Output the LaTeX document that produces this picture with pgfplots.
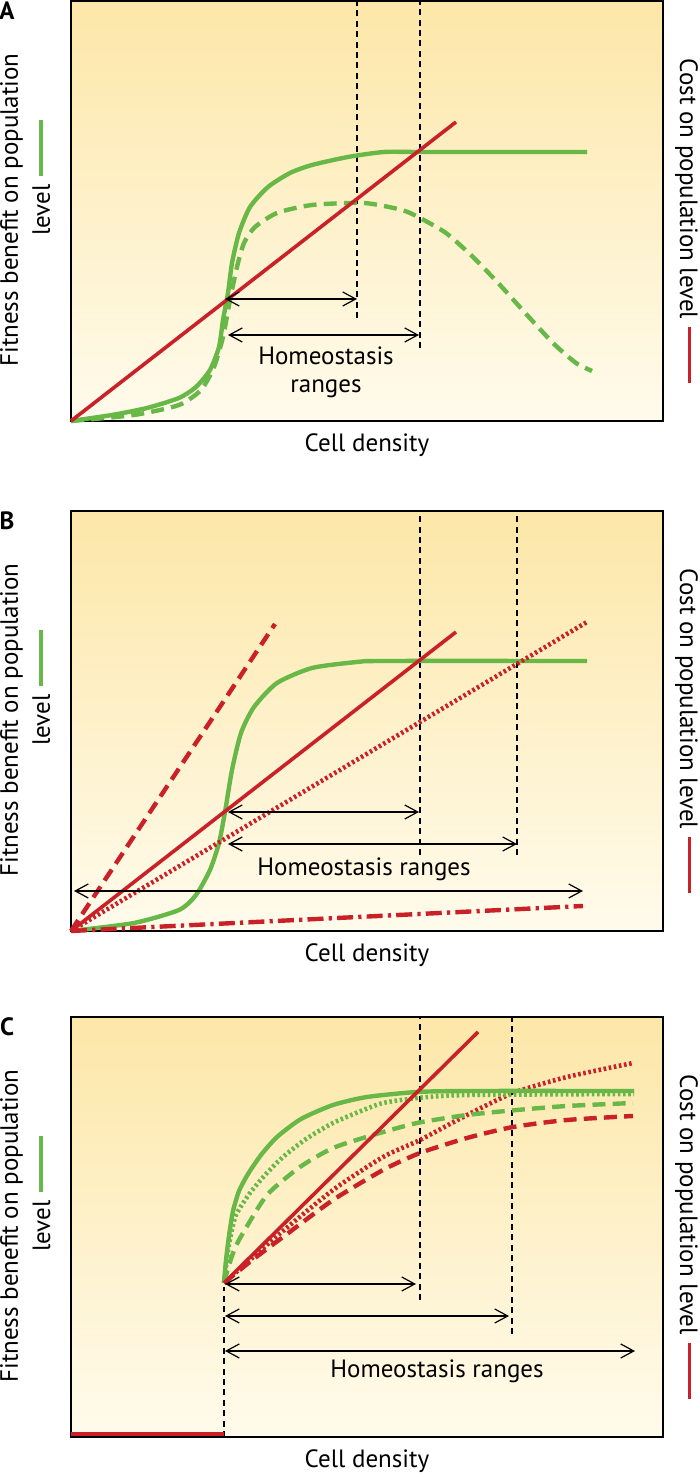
\documentclass[border=0pt]{standalone}
\usepackage{pgfplots}
\pgfplotsset{compat=1.18}
\usepackage{fontspec}
\setmainfont{PT Sans}
\usetikzlibrary{arrows.meta}
\definecolor{cgreen}{RGB}{104,184,72}
\definecolor{cred}{RGB}{202,33,41}
\definecolor{bgtop}{RGB}{253,231,168}
\definecolor{bgbot}{RGB}{255,251,236}
\pgfplotsset{
  panel/.style={
    anchor=south west, width=296pt, height=210pt, scale only axis,
    xmin=0, xmax=592, ymin=0, ymax=420, ticks=none, clip=false,
    axis line style={line width=1.3pt},
    axis background/.style={top color=bgtop, bottom color=bgbot},
  },
  gsolid/.style={cgreen, line width=2.2pt, smooth, tension=0.4, no markers},
  gdash/.style={cgreen, line width=2.2pt, dash pattern=on 6.5pt off 3.6pt, smooth, tension=0.4, no markers},
  gdot/.style={cgreen, line width=2.3pt, dash pattern=on 1.3pt off 1.3pt, smooth, tension=0.4, no markers},
  rsolid/.style={cred, line width=1.8pt, no markers},
  rdash/.style={cred, line width=2.2pt, dash pattern=on 6.5pt off 3.6pt, smooth, tension=0.4, no markers},
  rdot/.style={cred, line width=2.3pt, dash pattern=on 1.3pt off 1.3pt, smooth, tension=0.4, no markers},
  rdashdot/.style={cred, line width=2.2pt, dash pattern=on 8pt off 2.6pt on 1.6pt off 2.6pt, no markers},
  vdash/.style={black, line width=0.6pt, dash pattern=on 3pt off 2.2pt, no markers},
  harrow/.style={black, line width=0.6pt, {Straight Barb[length=6.5pt,width=7pt]}-{Straight Barb[length=6.5pt,width=7pt]}, no markers},
}
\newcommand{\sidelabels}[1]{%
  \node[font=\bfseries\fontsize{12.5}{14}\selectfont, anchor=center] at (axis cs:-64,410) {#1};
  \node[rotate=90, anchor=base] at (axis cs:-53,211) {Fitness benefit on population};
  \node[rotate=90, anchor=base] at (axis cs:-21,243) {level\hspace{4pt}\textcolor{cgreen}{\rule[0.28em]{28pt}{2.2pt}}};
  \node[rotate=-90, anchor=base] at (axis cs:609,200) {Cost on population level\hspace{4pt}\textcolor{cred}{\rule[0.3em]{28pt}{1.9pt}}};
  \node[anchor=base] at (axis cs:296,-31) {Cell density};
}
\begin{document}
\fontsize{12.5}{15}\selectfont
\begin{tikzpicture}
\useasboundingbox (0,0) rectangle (350pt,738.5pt);
% ---------------- Panel A
\begin{axis}[panel, at={(35.5pt,528pt)}]
\addplot[vdash] coordinates {(286,103) (286,420)};
\addplot[vdash] coordinates {(349,73) (349,420)};
\addplot[gdash] coordinates {(0,0) (63,6) (108,16) (130,31) (143,54) (152,84) (159,121) (166,154) (173,178) (184,194) (206,208) (241,216) (293,218) (331,211) (349,203) (375,188) (402,164) (429,136) (456,106) (483,77) (505,58) (521,50)};
\addplot[gsolid] coordinates {(0,0) (41,6) (76,13) (108,23) (125,34) (139,51) (148,74) (152,101) (157,128) (161,158) (168,188) (179,214) (197,234) (219,248) (241,256) (277,264) (313,269) (349,269) (516,269)};
\addplot[rsolid] coordinates {(0,0) (385,299)};
\addplot[harrow] coordinates {(154,122) (286,122)};
\addplot[harrow] coordinates {(157,86) (348,86)};
\node[anchor=base] at (axis cs:255,56) {Homeostasis};
\node[anchor=base] at (axis cs:255,28) {ranges};
\sidelabels{A}
\end{axis}
% ---------------- Panel B
\begin{axis}[panel, at={(35.5pt,273pt)}]
\addplot[vdash] coordinates {(349,76) (349,420)};
\addplot[vdash] coordinates {(446,76) (446,420)};
\addplot[gsolid] coordinates {(0,0) (63,8) (108,21) (125,36) (139,61) (148,88) (154,119) (161,161) (170,198) (183,224) (206,248) (241,263) (286,269) (313,270) (516,270)};
\addplot[rdashdot] coordinates {(0,0) (512,25)};
\addplot[rdot] coordinates {(0,0) (516,309)};
\addplot[rdash] coordinates {(0,0) (204,307)};
\addplot[rsolid] coordinates {(0,0) (385,299)};
\addplot[harrow] coordinates {(157,119) (348,119)};
\addplot[harrow] coordinates {(157,87) (446,87)};
\addplot[harrow] coordinates {(3,40) (512,40)};
\node[anchor=base] at (axis cs:293,55) {Homeostasis ranges};
\sidelabels{B}
\end{axis}
% ---------------- Panel C
\begin{axis}[panel, at={(35.5pt,20pt)}]
\addplot[vdash] coordinates {(153,0) (153,150)};
\addplot[vdash] coordinates {(349,137) (349,420)};
\addplot[vdash] coordinates {(441,103) (441,420)};
\addplot[cred, line width=2.2pt, no markers] coordinates {(0,3) (153,3)};
\addplot[rdash] coordinates {(153,154) (180,176) (216,203) (262,237) (312,267) (349,284) (396,299) (442,310) (496,317) (562,321)};
\addplot[rdot] coordinates {(153,154) (180,178) (206,201) (262,247) (312,280) (349,297) (396,322) (442,344) (496,360) (562,374)};
\addplot[gdash] coordinates {(153,154) (158,172) (164,189) (172,204) (196,242) (229,270) (262,289) (302,302) (346,314) (396,322) (446,327) (496,331) (562,334)};
\addplot[gdot] coordinates {(153,154) (156,178) (159,198) (165,222) (179,244) (195,263) (212,280) (235,298) (262,314) (290,326) (312,334) (346,339) (396,342) (563,343)};
\addplot[gsolid] coordinates {(153,154) (154.5,172) (156.5,190) (159,208) (162,226) (168,246) (177,263) (190,282) (206,300) (230,318) (262,332) (296,340) (346,345) (400,346) (563,346)};
\addplot[rsolid] coordinates {(153,154) (407,405)};
\addplot[harrow] coordinates {(154,153) (345,153)};
\addplot[harrow] coordinates {(154,121) (438,121)};
\addplot[harrow] coordinates {(154,86) (564,86)};
\node[anchor=base] at (axis cs:366,59) {Homeostasis ranges};
\sidelabels{C}
\end{axis}
\end{tikzpicture}
\end{document}
